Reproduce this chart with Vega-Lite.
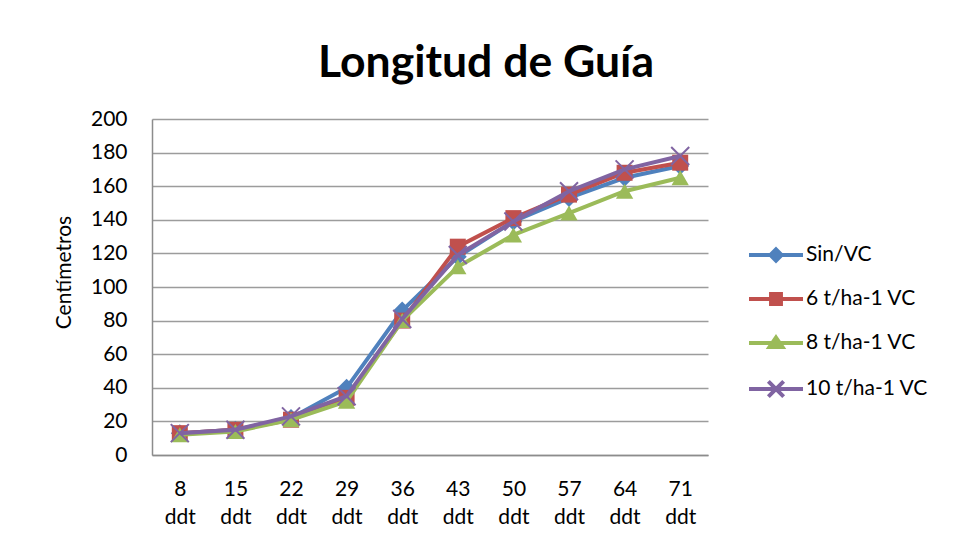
{
  "$schema": "https://vega.github.io/schema/vega-lite/v6.json",
  "width": 556,
  "height": 336,
  "autosize": {"type": "none"},
  "padding": {"left": 152, "top": 119, "right": 248, "bottom": 84},
  "background": "white",
  "config": {"view": {"stroke": null}, "font": "Lato"},
  "title": {"text": "Longitud de Guía", "fontSize": 44.5, "fontWeight": "bold", "font": "Lato", "color": "#000000", "anchor": "middle", "dx": 56, "offset": 22},
  "data": {"values": [
    {"dia": "8 ddt", "serie": "Sin/VC", "valor": 13},
    {"dia": "15 ddt", "serie": "Sin/VC", "valor": 15},
    {"dia": "22 ddt", "serie": "Sin/VC", "valor": 22},
    {"dia": "29 ddt", "serie": "Sin/VC", "valor": 40},
    {"dia": "36 ddt", "serie": "Sin/VC", "valor": 86},
    {"dia": "43 ddt", "serie": "Sin/VC", "valor": 118},
    {"dia": "50 ddt", "serie": "Sin/VC", "valor": 139},
    {"dia": "57 ddt", "serie": "Sin/VC", "valor": 153},
    {"dia": "64 ddt", "serie": "Sin/VC", "valor": 165},
    {"dia": "71 ddt", "serie": "Sin/VC", "valor": 172},
    {"dia": "8 ddt", "serie": "6 t/ha-1 VC", "valor": 13},
    {"dia": "15 ddt", "serie": "6 t/ha-1 VC", "valor": 15},
    {"dia": "22 ddt", "serie": "6 t/ha-1 VC", "valor": 21},
    {"dia": "29 ddt", "serie": "6 t/ha-1 VC", "valor": 34},
    {"dia": "36 ddt", "serie": "6 t/ha-1 VC", "valor": 80},
    {"dia": "43 ddt", "serie": "6 t/ha-1 VC", "valor": 124},
    {"dia": "50 ddt", "serie": "6 t/ha-1 VC", "valor": 141},
    {"dia": "57 ddt", "serie": "6 t/ha-1 VC", "valor": 155},
    {"dia": "64 ddt", "serie": "6 t/ha-1 VC", "valor": 168},
    {"dia": "71 ddt", "serie": "6 t/ha-1 VC", "valor": 174},
    {"dia": "8 ddt", "serie": "8 t/ha-1 VC", "valor": 12},
    {"dia": "15 ddt", "serie": "8 t/ha-1 VC", "valor": 14},
    {"dia": "22 ddt", "serie": "8 t/ha-1 VC", "valor": 21},
    {"dia": "29 ddt", "serie": "8 t/ha-1 VC", "valor": 32},
    {"dia": "36 ddt", "serie": "8 t/ha-1 VC", "valor": 80},
    {"dia": "43 ddt", "serie": "8 t/ha-1 VC", "valor": 112},
    {"dia": "50 ddt", "serie": "8 t/ha-1 VC", "valor": 131},
    {"dia": "57 ddt", "serie": "8 t/ha-1 VC", "valor": 144},
    {"dia": "64 ddt", "serie": "8 t/ha-1 VC", "valor": 157},
    {"dia": "71 ddt", "serie": "8 t/ha-1 VC", "valor": 165},
    {"dia": "8 ddt", "serie": "10 t/ha-1 VC", "valor": 13},
    {"dia": "15 ddt", "serie": "10 t/ha-1 VC", "valor": 15},
    {"dia": "22 ddt", "serie": "10 t/ha-1 VC", "valor": 23},
    {"dia": "29 ddt", "serie": "10 t/ha-1 VC", "valor": 35},
    {"dia": "36 ddt", "serie": "10 t/ha-1 VC", "valor": 81},
    {"dia": "43 ddt", "serie": "10 t/ha-1 VC", "valor": 119},
    {"dia": "50 ddt", "serie": "10 t/ha-1 VC", "valor": 139},
    {"dia": "57 ddt", "serie": "10 t/ha-1 VC", "valor": 157},
    {"dia": "64 ddt", "serie": "10 t/ha-1 VC", "valor": 170},
    {"dia": "71 ddt", "serie": "10 t/ha-1 VC", "valor": 178}
  ]},
  "encoding": {
    "x": {
      "field": "dia", "type": "ordinal",
      "sort": ["8 ddt", "15 ddt", "22 ddt", "29 ddt", "36 ddt", "43 ddt", "50 ddt", "57 ddt", "64 ddt", "71 ddt"],
      "scale": {"padding": 0.5},
      "axis": {"title": null, "labelAngle": 0, "labelExpr": "split(datum.label, ' ')", "labelFontSize": 21, "labelLineHeight": 28, "labelPadding": 23, "labelColor": "#000000", "ticks": false, "tickSize": 0, "grid": false, "domainColor": "#8c8c8c", "domainWidth": 1.5, "labelFont": "Lato"}
    },
    "y": {
      "field": "valor", "type": "quantitative",
      "scale": {"domain": [0, 200], "nice": false},
      "axis": {"title": "Centímetros", "values": [0, 20, 40, 60, 80, 100, 120, 140, 160, 180, 200], "grid": true, "gridColor": "#9c9c9c", "gridWidth": 1.5, "ticks": false, "tickSize": 0, "labelPadding": 25, "labelFontSize": 21, "labelColor": "#000000", "labelFont": "Lato", "domainColor": "#8c8c8c", "domainWidth": 1.5, "titleFontSize": 21, "titleFontWeight": "normal", "titleColor": "#000000", "titleFont": "Lato", "titleX": -78, "titleY": 153}
    }
  },
  "layer": [
    {"transform": [{"filter": "datum.serie === 'Sin/VC'"}], "layer": [
      {"mark": {"type": "line", "strokeWidth": 4, "color": "#4F81BD"}},
      {"mark": {"type": "point", "shape": "diamond", "filled": true, "size": 320, "color": "#4F81BD", "opacity": 1}}
    ]},
    {"transform": [{"filter": "datum.serie === '6 t/ha-1 VC'"}], "layer": [
      {"mark": {"type": "line", "strokeWidth": 4, "color": "#C0504D"}},
      {"mark": {"type": "point", "shape": "square", "filled": true, "size": 256, "color": "#C0504D", "opacity": 1}}
    ]},
    {"transform": [{"filter": "datum.serie === '8 t/ha-1 VC'"}], "layer": [
      {"mark": {"type": "line", "strokeWidth": 4, "color": "#9BBB59"}},
      {"mark": {"type": "point", "shape": "triangle-up", "filled": true, "size": 300, "color": "#9BBB59", "opacity": 1}}
    ]},
    {"transform": [{"filter": "datum.serie === '10 t/ha-1 VC'"}], "layer": [
      {"mark": {"type": "line", "strokeWidth": 4, "color": "#8064A2"}},
      {"mark": {"type": "point", "shape": "M-1,-1L1,1M-1,1L1,-1", "filled": false, "size": 324, "strokeWidth": 2, "color": "#8064A2", "opacity": 1}}
    ]},
    {
      "transform": [{"filter": "datum.valor < 0"}],
      "mark": {"type": "point", "filled": true},
      "encoding": {
        "fill": {
          "field": "serie", "type": "nominal",
          "scale": {"domain": ["Sin/VC", "6 t/ha-1 VC", "8 t/ha-1 VC", "10 t/ha-1 VC"], "range": ["#4F81BD", "#C0504D", "#9BBB59", "#8064A2"]},
          "legend": {"title": null, "orient": "none", "legendX": 613, "legendY": 125, "padding": 0, "symbolSize": 324, "symbolStrokeWidth": 4, "symbolOpacity": 1, "symbolFillColor": "#4F81BD", "symbolStrokeColor": "#4F81BD", "labelFontSize": 21, "labelFont": "Lato", "labelColor": "#000000", "labelOffset": 19, "rowPadding": 17}
        },
        "stroke": {
          "field": "serie", "type": "nominal",
          "scale": {"domain": ["Sin/VC", "6 t/ha-1 VC", "8 t/ha-1 VC", "10 t/ha-1 VC"], "range": ["#4F81BD", "#C0504D", "#9BBB59", "#8064A2"]},
          "legend": {"title": null, "orient": "none", "legendX": 613, "legendY": 125, "padding": 0, "symbolSize": 324, "symbolStrokeWidth": 4, "symbolOpacity": 1, "symbolFillColor": "#4F81BD", "symbolStrokeColor": "#4F81BD", "labelFontSize": 21, "labelFont": "Lato", "labelColor": "#000000", "labelOffset": 19, "rowPadding": 17}
        },
        "shape": {
          "field": "serie", "type": "nominal",
          "scale": {
            "domain": ["Sin/VC", "6 t/ha-1 VC", "8 t/ha-1 VC", "10 t/ha-1 VC"],
            "range": [
              "M-3,0H3M0,-0.62L0.62,0L0,0.62L-0.62,0Z",
              "M-3,0H3M-0.55,-0.55H0.55V0.55H-0.55Z",
              "M-3,0H3M0,-0.6L0.72,0.45H-0.72Z",
              "M-3,0H3M-0.85,-0.85L0.85,0.85M-0.85,0.85L0.85,-0.85"
            ]
          },
          "legend": {"title": null, "orient": "none", "legendX": 613, "legendY": 125, "padding": 0, "symbolSize": 324, "symbolStrokeWidth": 4, "symbolOpacity": 1, "symbolFillColor": "#4F81BD", "symbolStrokeColor": "#4F81BD", "labelFontSize": 21, "labelFont": "Lato", "labelColor": "#000000", "labelOffset": 19, "rowPadding": 17}
        }
      }
    }
  ]
}
